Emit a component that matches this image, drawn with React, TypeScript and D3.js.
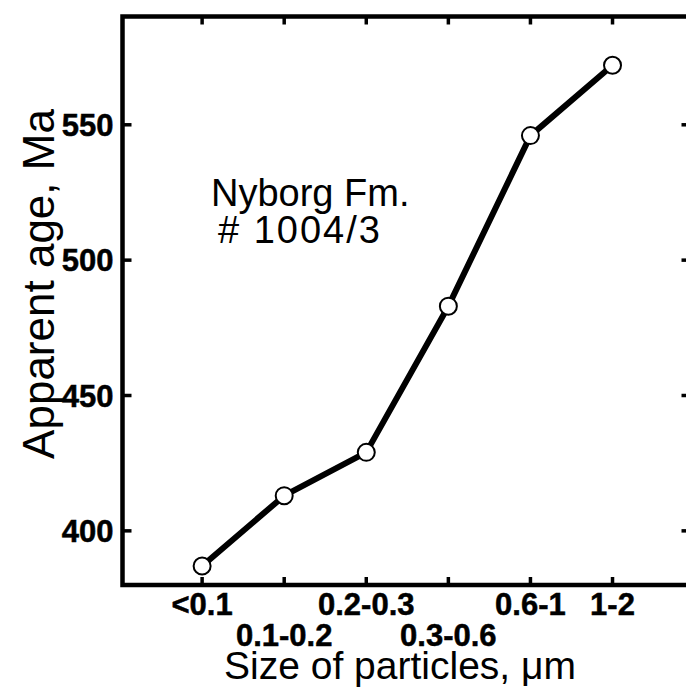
import React from "react";
import * as d3 from "d3";

// Apparent K-Ar age of clay size fractions, Nyborg Fm. sample #1004/3
const sizeClasses = ["<0.1", "0.1-0.2", "0.2-0.3", "0.3-0.6", "0.6-1", "1-2"];
const apparentAge = [387, 413, 429, 483, 546, 572];
const ageTicks = [400, 450, 500, 550];
const sampleName = "Nyborg Fm.";
const sampleId = "# 1004/3";

const W = 686;
const H = 690;
const frame = { left: 122.5, right: 690.5, top: 16.5, bottom: 585 };

export default function App() {
  const x = d3.scaleLinear().domain([-0.97, 5.95]).range([frame.left, frame.right]);
  const y = d3.scaleLinear().domain([380, 590]).range([frame.bottom, frame.top]);

  const line = d3
    .line<number>()
    .x((_, i) => x(i))
    .y((d) => y(d));

  const font = "'Liberation Sans', Arial, Helvetica, sans-serif";

  return (
    <svg
      width={W}
      height={H}
      viewBox={`0 0 ${W} ${H}`}
      style={{ position: "absolute", left: 0, top: 0, background: "#fff" }}
    >
      <rect x={0} y={0} width={W} height={H} fill="#fff" />

      {/* frame */}
      <path
        d={`M${frame.right},${frame.top}H${frame.left}V${frame.bottom}H${frame.right}`}
        fill="none"
        stroke="#000"
        strokeWidth={4.5}
        strokeLinejoin="miter"
      />

      {/* x ticks, bottom and top, pointing inward */}
      {sizeClasses.map((_, i) => (
        <g key={`xt${i}`} stroke="#000" strokeWidth={3.5}>
          <line x1={x(i)} x2={x(i)} y1={frame.bottom} y2={frame.bottom - 8} />
          <line x1={x(i)} x2={x(i)} y1={frame.top} y2={frame.top + 8} />
        </g>
      ))}

      {/* y ticks, left and right, pointing inward */}
      {ageTicks.map((t) => (
        <g key={`yt${t}`} stroke="#000" strokeWidth={3.5}>
          <line x1={frame.left} x2={frame.left + 9} y1={y(t)} y2={y(t)} />
          <line x1={frame.right} x2={frame.right - 9} y1={y(t)} y2={y(t)} />
        </g>
      ))}

      {/* y tick labels */}
      {ageTicks.map((t) => (
        <text
          key={`yl${t}`}
          x={frame.left - 9}
          y={y(t)}
          dy="0.36em"
          textAnchor="end"
          fontFamily={font}
          fontWeight="bold"
          fontSize={31}
          fill="#000"
          stroke="#000"
          strokeWidth={0.5}
        >
          {t}
        </text>
      ))}

      {/* x tick labels, staggered on two rows */}
      {sizeClasses.map((c, i) => {
        const lower = i === 1 || i === 3;
        return (
          <text
            key={`xl${i}`}
            x={x(i)}
            y={lower ? 646 : 615}
            textAnchor="middle"
            fontFamily={font}
            fontWeight="bold"
            fontSize={31}
            fill="#000"
            stroke="#000"
            strokeWidth={0.5}
          >
            {c}
          </text>
        );
      })}

      {/* axis titles */}
      <text
        x={400}
        y={679}
        textAnchor="middle"
        fontFamily={font}
        fontSize={39}
        fill="#000"
      >
        Size of particles, μm
      </text>
      <text
        transform={`translate(54,284) rotate(-90)`}
        textAnchor="middle"
        fontFamily={font}
        fontSize={44}
        fill="#000"
      >
        Apparent age, Ma
      </text>

      {/* sample annotation */}
      <text x={211} y={206} fontFamily={font} fontSize={38} fill="#000">
        {sampleName}
      </text>
      <text x={218} y={243} fontFamily={font} fontSize={38} letterSpacing={2} fill="#000">
        {sampleId}
      </text>

      {/* data */}
      <path
        d={line(apparentAge) ?? ""}
        fill="none"
        stroke="#000"
        strokeWidth={6}
        strokeLinejoin="round"
        strokeLinecap="round"
      />
      {apparentAge.map((v, i) => (
        <circle
          key={`pt${i}`}
          cx={x(i)}
          cy={y(v)}
          r={8.5}
          fill="#fff"
          stroke="#000"
          strokeWidth={2}
        />
      ))}
    </svg>
  );
}
